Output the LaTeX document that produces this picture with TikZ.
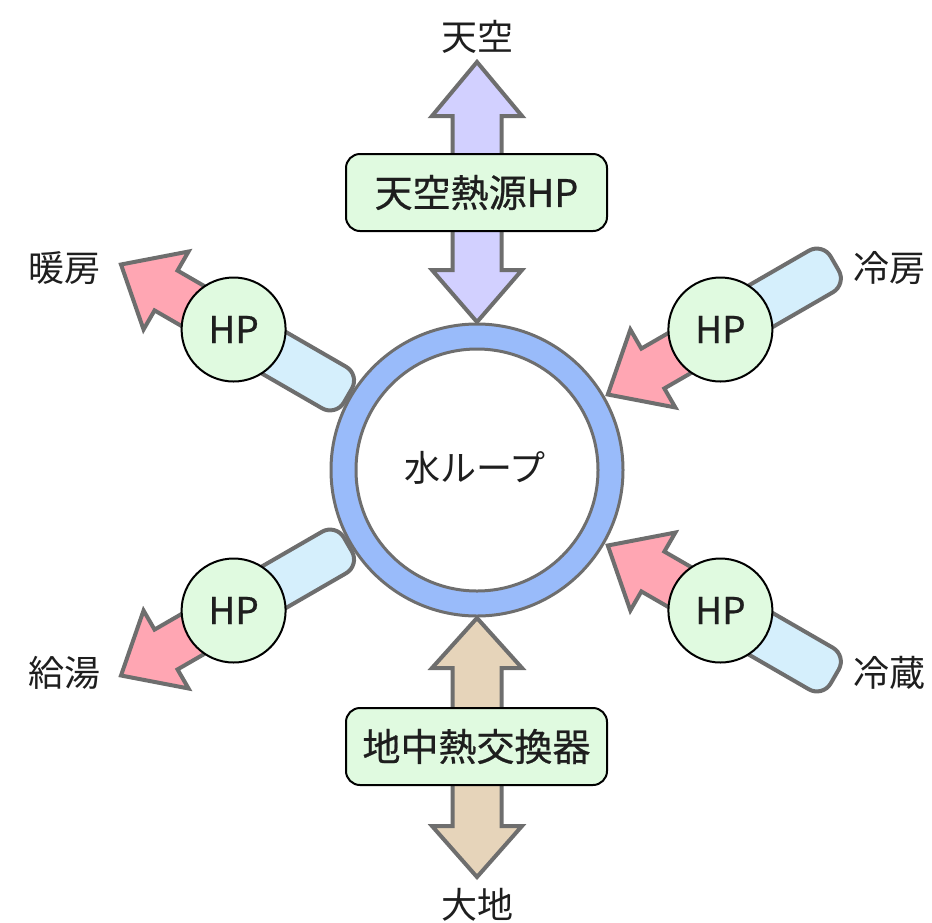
\documentclass[tikz,border=0pt]{standalone}
\usepackage{fontspec}
\setmainfont{Noto Sans CJK JP}
\newfontfamily\medfont[FakeBold=0.6]{Noto Sans CJK JP}
\definecolor{ringblue}{HTML}{99BBFA}
\definecolor{arrgray}{HTML}{6E6E6E}
\definecolor{hpgreen}{HTML}{E0FAE0}
\definecolor{pipeblue}{HTML}{D5EFFC}
\definecolor{hotred}{HTML}{FFA6B3}
\definecolor{airpurple}{HTML}{D2D0FF}
\definecolor{earthtan}{HTML}{E6D4BA}
\definecolor{txt}{HTML}{1E1E1E}
\tikzset{
  fatarrow/.style={draw=arrgray, line width=4pt, line join=miter},
  pipebox/.style={draw=arrgray, line width=4pt, fill=pipeblue, rounded corners=16pt},
  hotarrow/.style={fatarrow, fill=hotred},
  ringline/.style={draw=arrgray, line width=3pt},
  hpnode/.style={circle, draw=black, line width=2pt, fill=hpgreen, minimum size=104pt, inner sep=0pt,
    text=txt, font=\medfont\fontsize{37}{37}\selectfont},
  boxnode/.style={rectangle, rounded corners=14pt, draw=black, line width=2pt, fill=hpgreen,
    minimum width=261pt, minimum height=77pt, inner sep=0pt, text=txt, font=\medfont\fontsize{38}{38}\selectfont},
  lbl/.style={text=txt, inner sep=0pt, font=\fontsize{36}{36}\selectfont},
}
\begin{document}
\begin{tikzpicture}[x=1pt,y=-1pt]
\useasboundingbox (0,0) rectangle (932,922);
\coordinate (C) at (477,470);
\coordinate (P1) at (233.6,329.5);
\coordinate (P2) at (720.4,329.5);
\coordinate (P3) at (233.6,610.5);
\coordinate (P4) at (720.4,610.5);

% vertical arrows
\draw[fatarrow, fill=airpurple] (477,62) -- (522,116) -- (501.5,116) -- (501.5,270) -- (522,270)
  -- (477,322) -- (432,270) -- (452.5,270) -- (452.5,116) -- (432,116) -- cycle;
\draw[fatarrow, fill=earthtan] (477,618) -- (522,668) -- (501.5,668) -- (501.5,826) -- (522,826)
  -- (477,877) -- (432,826) -- (452.5,826) -- (452.5,668) -- (432,668) -- cycle;

% pipes
\begin{scope}[shift={(P1)}, rotate=330]
  \draw[pipebox] (0,-24) rectangle (132,24);
\end{scope}
\begin{scope}[shift={(P3)}, rotate=30]
  \draw[pipebox] (0,-24) rectangle (132,24);
\end{scope}
\begin{scope}[shift={(P2)}, rotate=30]
  \draw[pipebox] (0,-24) rectangle (132,24);
\end{scope}
\begin{scope}[shift={(P4)}, rotate=330]
  \draw[pipebox] (0,-24) rectangle (132,24);
\end{scope}

% hot arrows
\begin{scope}[shift={(P1)}, rotate=150]
  \draw[hotarrow] (0,-23) -- (78,-23) -- (78,-45) -- (130,0) -- (78,45) -- (78,23) -- (0,23) -- cycle;
\end{scope}
\begin{scope}[shift={(P3)}, rotate=210]
  \draw[hotarrow] (0,-23) -- (78,-23) -- (78,-45) -- (130,0) -- (78,45) -- (78,23) -- (0,23) -- cycle;
\end{scope}
\begin{scope}[shift={(P2)}, rotate=210]
  \draw[hotarrow] (0,-23) -- (78,-23) -- (78,-45) -- (130,0) -- (78,45) -- (78,23) -- (0,23) -- cycle;
\end{scope}
\begin{scope}[shift={(P4)}, rotate=150]
  \draw[hotarrow] (0,-23) -- (78,-23) -- (78,-45) -- (130,0) -- (78,45) -- (78,23) -- (0,23) -- cycle;
\end{scope}

% water loop
\draw[ringline, fill=ringblue] (C) circle[radius=146pt];
\draw[ringline, fill=white] (C) circle[radius=121pt];
\node[lbl] (loop) at (475,468) {水ループ};

% heat pumps
\node[hpnode] (hp1) at (P1) {HP};
\node[hpnode] (hp2) at (P2) {HP};
\node[hpnode] (hp3) at (P3) {HP};
\node[hpnode] (hp4) at (P4) {HP};

% boxes
\node[boxnode] (air) at (476.5,192.5) {天空熱源HP};
\node[boxnode] (geo) at (476.5,746.5) {地中熱交換器};

% labels
\node[lbl] (sky) at (477,37) {天空};
\node[lbl] (earth) at (477,905) {大地};
\node[lbl] (heat) at (64,268) {暖房};
\node[lbl] (cool) at (889,268) {冷房};
\node[lbl] (hotw) at (64,673) {給湯};
\node[lbl] (refr) at (889,673) {冷蔵};
\end{tikzpicture}
\end{document}
